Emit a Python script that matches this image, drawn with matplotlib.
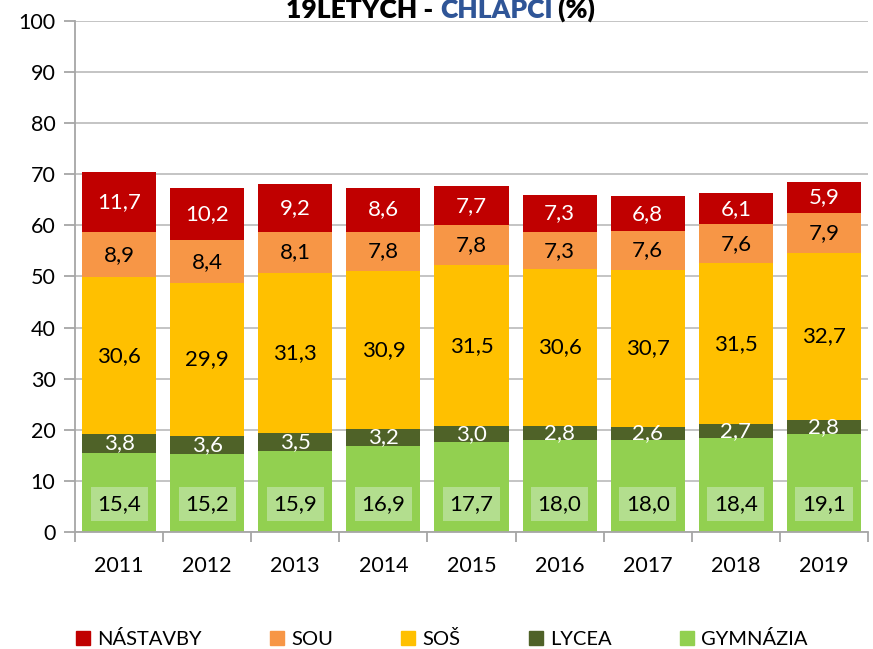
import matplotlib
matplotlib.use("Agg")
import matplotlib.pyplot as plt
import numpy as np
from matplotlib.patches import Patch

plt.rcParams['font.family'] = ['Lato', 'DejaVu Sans']

years = ['2011', '2012', '2013', '2014', '2015', '2016', '2017', '2018', '2019']
gymnazia = [15.4, 15.2, 15.9, 16.9, 17.7, 18.0, 18.0, 18.4, 19.1]
lycea = [3.8, 3.6, 3.5, 3.2, 3.0, 2.8, 2.6, 2.7, 2.8]
sos = [30.6, 29.9, 31.3, 30.9, 31.5, 30.6, 30.7, 31.5, 32.7]
sou = [8.9, 8.4, 8.1, 7.8, 7.8, 7.3, 7.6, 7.6, 7.9]
nastavby = [11.7, 10.2, 9.2, 8.6, 7.7, 7.3, 6.8, 6.1, 5.9]

series = [('GYMNÁZIA', gymnazia, '#92D050', 'black'),
          ('LYCEA', lycea, '#4F6228', 'white'),
          ('SOŠ', sos, '#FFC000', 'black'),
          ('SOU', sou, '#F79646', 'black'),
          ('NÁSTAVBY', nastavby, '#C00000', 'white')]

fig = plt.figure(figsize=(8.73, 6.49), dpi=100)
ax = fig.add_axes([0.0859, 0.1803, 0.9084, 0.7874])

x = np.arange(len(years))
bottom = np.zeros(len(years))
for name, vals, col, tcol in series:
    vals = np.array(vals)
    ax.bar(x, vals, 0.84, bottom=bottom, color=col, zorder=2)
    for xi, b, v in zip(x, bottom, vals):
        lab = f'{v:.1f}'.replace('.', ',')
        if name == 'GYMNÁZIA':
            # inside-base label with a light box
            ax.text(xi, 5.5, lab, ha='center', va='center', fontsize=16, color=tcol, zorder=3,
                    bbox=dict(boxstyle='square,pad=0.3', fc='#B3DE8E', ec='none'))
        else:
            ax.text(xi, b + v / 2, lab, ha='center', va='center', fontsize=16, color=tcol, zorder=3)
    bottom += vals

ax.set_xlim(-0.5, len(years) - 0.5)
ax.set_ylim(0, 100)
ax.set_yticks(range(0, 101, 10))
ax.set_xticks(x)
ax.set_xticklabels(years)
ax.set_xticks(np.arange(-0.5, len(years)), minor=True)
ax.tick_params(axis='x', which='major', length=0, pad=17, labelsize=15.5)
ax.tick_params(axis='x', which='minor', length=7, color='#A6A6A6', width=1.3)
ax.tick_params(axis='y', length=8, color='#A6A6A6', width=1.3, labelsize=15.5, pad=6)
ax.grid(axis='y', color='#BFBFBF', linewidth=1.3, zorder=0)
for s in ['top', 'right']:
    ax.spines[s].set_visible(False)
for s in ['left', 'bottom']:
    ax.spines[s].set_color('#A6A6A6')
    ax.spines[s].set_linewidth(1.3)

handles = [Patch(color=c) for _, _, c, _ in reversed(series)]
labels = [n for n, _, _, _ in reversed(series)]
fig.legend(handles, labels, loc='center', bbox_to_anchor=(0.506, 0.016), ncol=5, frameon=False,
           fontsize=14.5, handlelength=0.7, handleheight=0.7, handletextpad=0.35, columnspacing=3.4)

# title, partly cut off at the top edge as in the source
parts = [('19LETÝCH - ', 'black'), ('CHLAPCI', '#2F5597'), (' (%)', 'black')]
fig.canvas.draw()
r = fig.canvas.get_renderer()
txts = []
for s, c in parts:
    t = fig.text(0, 1 - 18 / 649, s, fontsize=19, fontweight='heavy', color=c, va='baseline', ha='left')
    txts.append(t)
widths = [t.get_window_extent(r).width / fig.bbox.width for t in txts]
xpos = 0.505 - sum(widths) / 2
for t, w in zip(txts, widths):
    t.set_x(xpos)
    xpos += w

fig.savefig('out.png', dpi=100)
